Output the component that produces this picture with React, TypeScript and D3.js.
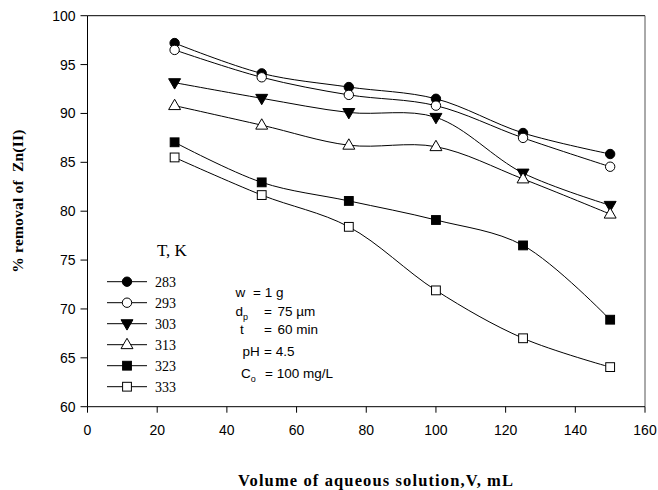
import * as d3 from "d3";

const volumes = [25, 50, 75, 100, 125, 150];
const temps = ["283", "293", "303", "313", "323", "333"];
const removal283 = [97.2, 94.1, 92.7, 91.5, 88.0, 85.85];
const removal293 = [96.5, 93.7, 91.9, 90.8, 87.5, 84.55];
const removal303 = [93.15, 91.55, 90.1, 89.6, 83.9, 80.6];
const removal313 = [90.8, 88.8, 86.75, 86.6, 83.3, 79.7];
const removal323 = [87.05, 82.95, 81.05, 79.1, 76.5, 68.9];
const removal333 = [85.5, 81.65, 78.4, 71.9, 67.0, 64.05];
const xTicks = [0, 20, 40, 60, 80, 100, 120, 140, 160];
const yTicks = [60, 65, 70, 75, 80, 85, 90, 95, 100];

const seriesList = [
  { name: temps[0], values: removal283, shape: "circle", filled: true },
  { name: temps[1], values: removal293, shape: "circle", filled: false },
  { name: temps[2], values: removal303, shape: "triDown", filled: true },
  { name: temps[3], values: removal313, shape: "triUp", filled: false },
  { name: temps[4], values: removal323, shape: "square", filled: true },
  { name: temps[5], values: removal333, shape: "square", filled: false },
];

const W = 658;
const H = 490;
const left = 87.5;
const right = 645;
const top = 15.7;
const bottom = 406.7;

const x = d3.scaleLinear().domain([0, 160]).range([left, right]);
const y = d3.scaleLinear().domain([60, 100]).range([bottom, top]);

const sans = "'Liberation Sans', Arial, sans-serif";
const serif = "'Liberation Serif', 'Times New Roman', serif";

function Marker({ shape, filled, cx, cy }: { shape: string; filled: boolean; cx: number; cy: number }) {
  const fill = filled ? "#000" : "#fff";
  if (shape === "circle") {
    return <circle cx={cx} cy={cy} r={4.7} fill={fill} stroke="#000" strokeWidth={1} />;
  }
  if (shape === "square") {
    return <rect x={cx - 4.4} y={cy - 4.4} width={8.8} height={8.8} fill={fill} stroke="#000" strokeWidth={1} />;
  }
  const sym = d3.symbol().type(d3.symbolTriangle).size(62)();
  const rot = shape === "triDown" ? 180 : 0;
  return (
    <path
      d={sym || ""}
      transform={`translate(${cx},${cy + (rot ? -0.5 : 0.5)}) rotate(${rot})`}
      fill={fill}
      stroke="#000"
      strokeWidth={1}
    />
  );
}

export default function App() {
  const line = d3
    .line<number>()
    .x((_, i) => x(volumes[i]))
    .y((d) => y(d))
    .curve(d3.curveCatmullRom.alpha(0.5));

  const legendY = d3.scaleLinear().domain([0, 5]).range([281.7, 386.7]);

  // condition block, split so the "=" signs sit where they do in the original
  const notes = [
    { base: 297, parts: [{ t: "w", x: 235.5 }, { t: "= 1 g", x: 253 }] },
    { base: 315.5, parts: [{ t: "d", x: 235.5, sub: "p" }, { t: "=", x: 264 }, { t: "75 µm", x: 277.5 }] },
    { base: 334, parts: [{ t: "t", x: 240 }, { t: "=", x: 264 }, { t: "60 min", x: 277.5 }] },
    { base: 356, parts: [{ t: "pH", x: 242.5 }, { t: "= 4.5", x: 264 }] },
    { base: 378, parts: [{ t: "C", x: 241, sub: "o" }, { t: "= 100 mg/L", x: 265 }] },
  ];

  return (
    <svg width={W} height={H} style={{ position: "absolute", left: 0, top: 0 }} fill="none">
      <rect x={0} y={0} width={W} height={H} fill="#fff" />

      {/* frame */}
      <line x1={left} x2={right} y1={top} y2={top} stroke="#000" />
      <line x1={right} x2={right} y1={top} y2={bottom} stroke="#555" />
      <line x1={left} x2={left} y1={top} y2={bottom} stroke="#000" />
      <line x1={left} x2={right} y1={bottom} y2={bottom} stroke="#000" />

      {/* y ticks */}
      {yTicks.map((t) => (
        <g key={"y" + t}>
          <line x1={left - 7} x2={left} y1={y(t)} y2={y(t)} stroke="#000" />
          <text x={left - 12} y={y(t) + 5} textAnchor="end" fontFamily={sans} fontSize={14} fill="#000">
            {t}
          </text>
        </g>
      ))}

      {/* x ticks */}
      {xTicks.map((t) => (
        <g key={"x" + t}>
          <line x1={x(t)} x2={x(t)} y1={bottom} y2={bottom + 6} stroke="#000" />
          <text x={x(t)} y={bottom + 28.5} textAnchor="middle" fontFamily={sans} fontSize={14} fill="#000">
            {t}
          </text>
        </g>
      ))}

      {/* series */}
      {seriesList.map((s) => (
        <g key={s.name}>
          <path d={line(s.values) || ""} stroke="#000" strokeWidth={1} fill="none" />
          {s.values.map((v, i) => (
            <Marker key={i} shape={s.shape} filled={s.filled} cx={x(volumes[i])} cy={y(v)} />
          ))}
        </g>
      ))}

      {/* legend */}
      <text x={157} y={256} fontFamily={serif} fontSize={17} fill="#000">
        T, K
      </text>
      {seriesList.map((s, i) => (
        <g key={"lg" + s.name}>
          <line x1={107} x2={147} y1={legendY(i)} y2={legendY(i)} stroke="#000" />
          <Marker shape={s.shape} filled={s.filled} cx={127} cy={legendY(i)} />
          <text x={155} y={legendY(i) + 4.8} fontFamily={serif} fontSize={14} fill="#000">
            {s.name}
          </text>
        </g>
      ))}

      {/* conditions */}
      {notes.map((n, i) => (
        <g key={"n" + i}>
          {n.parts.map((p, j) => (
            <text key={j} x={p.x} y={n.base} fontFamily={sans} fontSize={13.5} fill="#000" xmlSpace="preserve">
              {p.t}
              {p.sub ? (
                <tspan fontSize={9} dy={4}>
                  {p.sub}
                </tspan>
              ) : null}
            </text>
          ))}
        </g>
      ))}

      {/* axis titles */}
      <text
        transform={`translate(23,${(top + bottom) / 2 - 10}) rotate(-90)`}
        textAnchor="middle"
        fontFamily={serif}
        fontWeight="bold"
        fontSize={15.5}
        fill="#000"
        xmlSpace="preserve"
        textLength={143}
        lengthAdjust="spacing"
      >
        % removal of  Zn(II)
      </text>
      <text
        x={375.5}
        y={486}
        textAnchor="middle"
        fontFamily={serif}
        fontWeight="bold"
        fontSize={16.5}
        fill="#000"
        textLength={275}
        lengthAdjust="spacing"
      >
        Volume of aqueous solution,V, mL
      </text>
    </svg>
  );
}
